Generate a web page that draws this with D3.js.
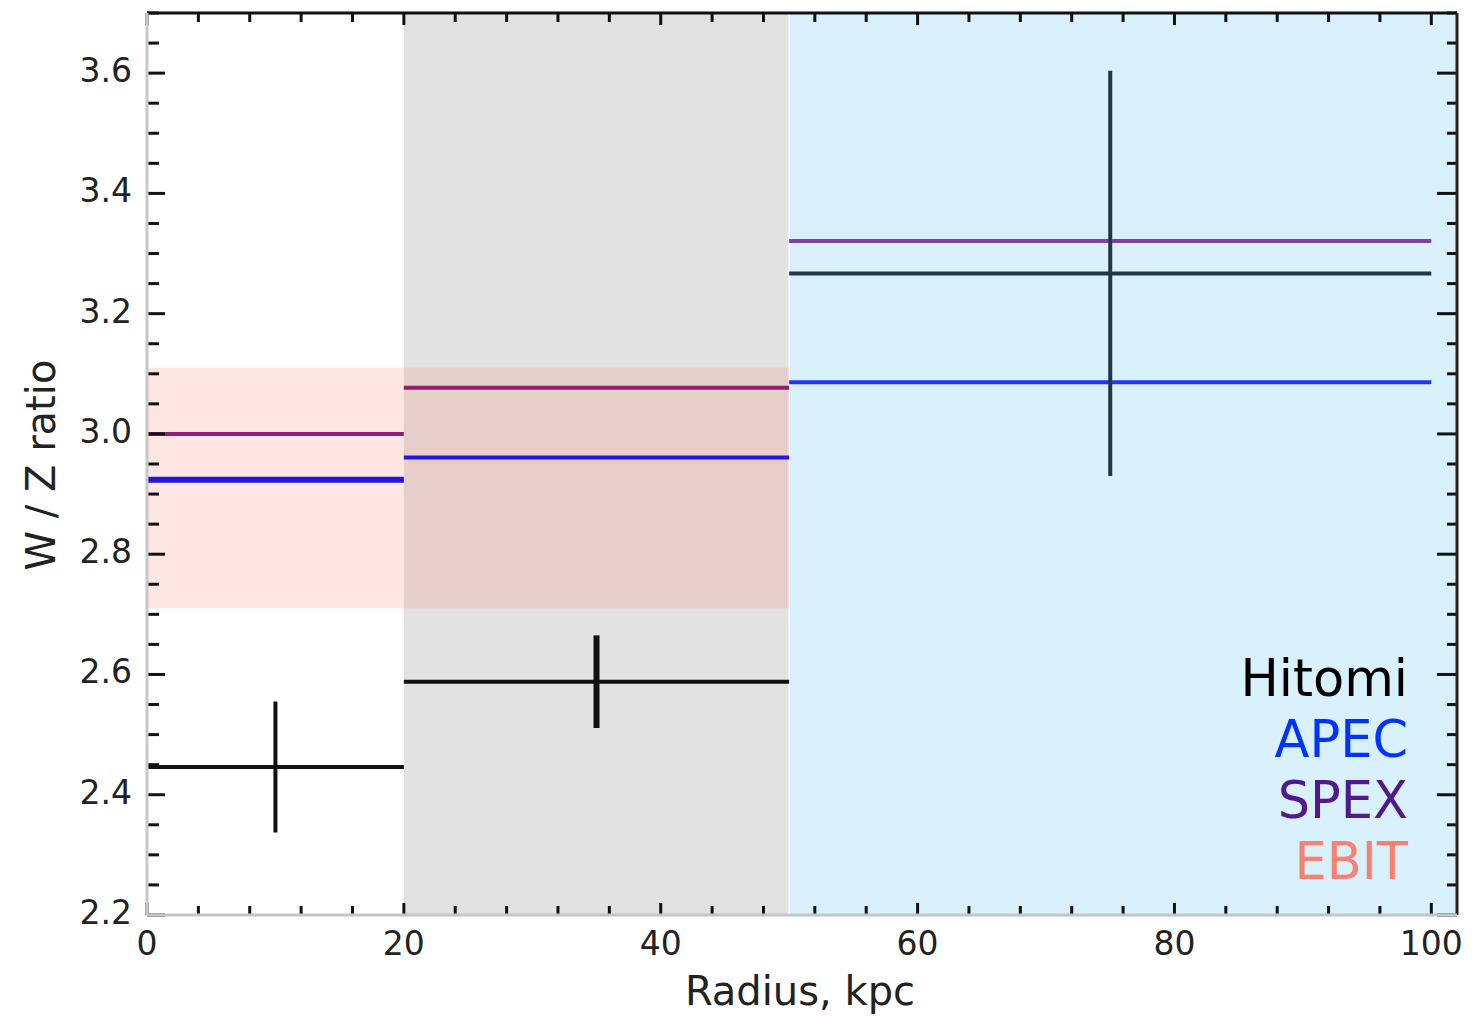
<!DOCTYPE html>
<html>
<head>
<meta charset="utf-8">
<script src="https://cdn.jsdelivr.net/npm/d3@7"></script>
<style>
  html, body { margin: 0; padding: 0; background: #fff; }
  svg { display: block; }
  .tick-label { font-family: "DejaVu Sans", sans-serif; font-size: 33px; fill: #222; }
  .axis-title { font-family: "DejaVu Sans", sans-serif; font-size: 40px; fill: #222; }
  .legend { font-family: "DejaVu Sans", sans-serif; font-size: 51px; }
</style>
</head>
<body>
<svg id="chart" width="1479" height="1017"></svg>
<script>
// radial bins (kpc)
var binStart = [0, 20, 50];
var binEnd = [20, 50, 100];
var binCenter = [10, 35, 75];

// W / Z ratios per bin
var hitomi = [2.446, 2.588, 3.267];
var hitomiErr = [0.109, 0.077, 0.337];
var apec = [2.924, 2.961, 3.086];
var spex = [3.000, 3.077, 3.321];

// EBIT band
var ebitValue = 2.91;
var ebitErr = 0.20;
var ebitRange = [0, 50];

// shaded regions behind the bins
var shadeStart = [20, 50];
var shadeEnd = [50, 102];

var xTicks = [0, 20, 40, 60, 80, 100];
var yTicks = [2.2, 2.4, 2.6, 2.8, 3.0, 3.2, 3.4, 3.6];
var legendNames = ["Hitomi", "APEC", "SPEX", "EBIT"];

(function () {
  "use strict";
  var svg = d3.select("#chart");
  var left = 147, right = 1457, top = 13, bottom = 915;

  var x = d3.scaleLinear().domain([0, 102]).range([left, right]);
  var y = d3.scaleLinear().domain([2.2, 3.7]).range([bottom, top]);

  var shadeColors = ["#e2e2e2", "#d9f0fd"];
  var hitomiColors = ["#111", "#111", "#233643"];
  var apecColors = ["#2014dc", "#2416dc", "#2233ff"];
  var spexColors = ["#921f75", "#8c1f70", "#8040a6"];
  var apecWidths = [6, 4, 4];
  var hitomiVWidths = [4, 6, 4];
  var legendColors = ["#000", "#0033ff", "#501a8e", "#fa8072"];

  // background regions
  svg.append("g").selectAll("rect").data(shadeStart).enter().append("rect")
    .attr("x", function (d) { return x(d); })
    .attr("y", top)
    .attr("width", function (d, i) { return x(shadeEnd[i]) - x(d); })
    .attr("height", bottom - top)
    .attr("fill", function (d, i) { return shadeColors[i]; });
  // thin white gap between gray and blue
  svg.append("line")
    .attr("x1", x(shadeStart[1])).attr("x2", x(shadeStart[1]))
    .attr("y1", top).attr("y2", bottom)
    .attr("stroke", "#fff").attr("stroke-width", 1.5);

  // EBIT band
  svg.append("rect")
    .attr("x", x(ebitRange[0]))
    .attr("y", y(ebitValue + ebitErr))
    .attr("width", x(ebitRange[1]) - x(ebitRange[0]))
    .attr("height", y(ebitValue - ebitErr) - y(ebitValue + ebitErr))
    .attr("fill", "#fa8072").attr("fill-opacity", 0.2);

  // model lines
  var lines = svg.append("g");
  lines.selectAll(".spex").data(spex).enter().append("line")
    .attr("x1", function (d, i) { return x(binStart[i]); })
    .attr("x2", function (d, i) { return x(binEnd[i]); })
    .attr("y1", function (d) { return y(d); })
    .attr("y2", function (d) { return y(d); })
    .attr("stroke", function (d, i) { return spexColors[i]; })
    .attr("stroke-width", 4);
  lines.selectAll(".apec").data(apec).enter().append("line")
    .attr("x1", function (d, i) { return x(binStart[i]); })
    .attr("x2", function (d, i) { return x(binEnd[i]); })
    .attr("y1", function (d) { return y(d); })
    .attr("y2", function (d) { return y(d); })
    .attr("stroke", function (d, i) { return apecColors[i]; })
    .attr("stroke-width", function (d, i) { return apecWidths[i]; });

  // Hitomi error crosses
  var cross = svg.append("g").selectAll("g").data(hitomi).enter().append("g");
  cross.append("line")
    .attr("x1", function (d, i) { return x(binStart[i]); })
    .attr("x2", function (d, i) { return x(binEnd[i]); })
    .attr("y1", function (d) { return y(d); })
    .attr("y2", function (d) { return y(d); })
    .attr("stroke", function (d, i) { return hitomiColors[i]; })
    .attr("stroke-width", 4);
  cross.append("line")
    .attr("x1", function (d, i) { return x(binCenter[i]); })
    .attr("x2", function (d, i) { return x(binCenter[i]); })
    .attr("y1", function (d, i) { return y(d + hitomiErr[i]); })
    .attr("y2", function (d, i) { return y(d - hitomiErr[i]); })
    .attr("stroke", function (d, i) { return hitomiColors[i]; })
    .attr("stroke-width", function (d, i) { return hitomiVWidths[i]; });

  // ticks
  var ticks = svg.append("g").attr("stroke", "#111").attr("stroke-width", 3);
  var xMinor = d3.range(0, 101, 4);
  xMinor.forEach(function (v) {
    var major = v % 20 === 0;
    ticks.append("line").attr("x1", x(v)).attr("x2", x(v))
      .attr("y1", bottom).attr("y2", bottom - (major ? 12 : 9));
    ticks.append("line").attr("x1", x(v)).attr("x2", x(v))
      .attr("y1", top).attr("y2", top + (major ? 12 : 9));
  });
  var yMinor = d3.range(2.2, 3.701, 0.05);
  yMinor.forEach(function (v) {
    var major = Math.abs(v * 5 - Math.round(v * 5)) < 1e-6;
    ticks.append("line").attr("x1", left).attr("x2", left + (major ? 18 : 12))
      .attr("y1", y(v)).attr("y2", y(v));
    ticks.append("line").attr("x1", right).attr("x2", right - (major ? 20 : 10))
      .attr("y1", y(v)).attr("y2", y(v));
  });

  // spines
  svg.append("line").attr("x1", left).attr("x2", right).attr("y1", top).attr("y2", top)
    .attr("stroke", "#111").attr("stroke-width", 3);
  svg.append("line").attr("x1", right).attr("x2", right).attr("y1", top).attr("y2", bottom)
    .attr("stroke", "#222").attr("stroke-width", 3);
  svg.append("line").attr("x1", left).attr("x2", left).attr("y1", top).attr("y2", bottom + 1)
    .attr("stroke", "#c8c8c8").attr("stroke-width", 3);
  svg.append("line").attr("x1", left).attr("x2", right).attr("y1", bottom).attr("y2", bottom)
    .attr("stroke", "#bfc6cc").attr("stroke-width", 3);

  // tick labels
  svg.append("g").selectAll("text").data(xTicks).enter().append("text")
    .attr("class", "tick-label")
    .attr("x", function (d) { return x(d); })
    .attr("y", 955)
    .attr("text-anchor", "middle")
    .text(function (d) { return d; });
  svg.append("g").selectAll("text").data(yTicks).enter().append("text")
    .attr("class", "tick-label")
    .attr("x", 132)
    .attr("y", function (d) { return y(d) + 9; })
    .attr("text-anchor", "end")
    .text(function (d) { return d3.format(".1f")(d); });

  // axis titles
  svg.append("text").attr("class", "axis-title")
    .attr("x", 800).attr("y", 1005)
    .attr("text-anchor", "middle")
    .text("Radius, kpc");
  svg.append("text").attr("class", "axis-title")
    .attr("transform", "translate(55,465) rotate(-90)")
    .attr("text-anchor", "middle")
    .text("W / Z ratio");

  // legend
  svg.append("g").selectAll("text").data(legendNames).enter().append("text")
    .attr("class", "legend")
    .attr("x", 1408)
    .attr("y", function (d, i) { return 696 + i * 61; })
    .attr("text-anchor", "end")
    .attr("fill", function (d, i) { return legendColors[i]; })
    .text(function (d) { return d; });
})();
</script>
</body>
</html>
